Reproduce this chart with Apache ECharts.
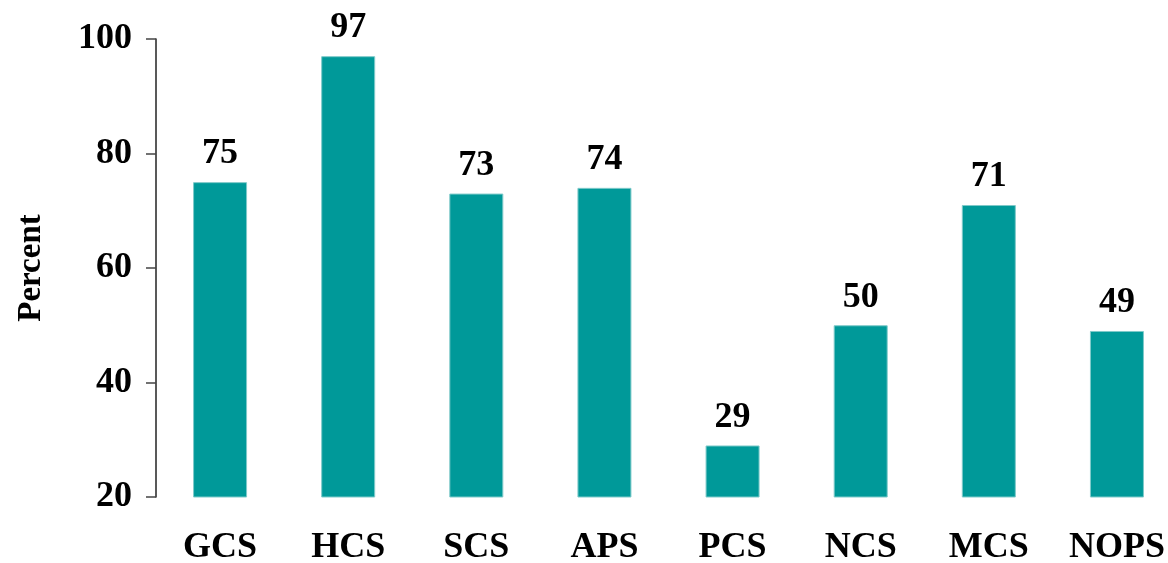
<!DOCTYPE html>
<html><head><meta charset="utf-8">
<script src="https://cdn.jsdelivr.net/npm/echarts@6/dist/echarts.min.js"></script>
<style>html,body{margin:0;padding:0;background:#fff}#c{width:1168px;height:563px}</style>
</head><body><div id="c"></div>
<script>
const categories = ['GCS','HCS','SCS','APS','PCS','NCS','MCS','NOPS'];
const values = [75, 97, 73, 74, 29, 50, 71, 49];
const yTicks = [20, 40, 60, 80, 100];
const font = '"Liberation Serif","Times New Roman",serif';
const chart = echarts.init(document.getElementById('c'));
chart.setOption({
  animation: false,
  grid: {left: 156, right: -13, top: 39, bottom: 66, containLabel: false, outerBoundsMode: 'none'},
  xAxis: {
    type: 'category', data: categories,
    axisLine: {show: false}, axisTick: {show: false},
    axisLabel: {margin: 33, color: '#000', fontFamily: font, fontWeight: 'bold', fontSize: 36}
  },
  yAxis: {
    type: 'value', min: yTicks[0], max: yTicks[yTicks.length-1], interval: 20,
    name: 'Percent', nameLocation: 'middle', nameGap: 108,
    nameTextStyle: {color: '#000', fontFamily: font, fontWeight: 'bold', fontSize: 33},
    axisLine: {show: true, lineStyle: {color: '#222', width: 1.5}},
    axisTick: {show: true, length: 10, lineStyle: {color: '#444', width: 1.5}},
    axisLabel: {margin: 24, color: '#000', fontFamily: font, fontWeight: 'bold', fontSize: 36},
    splitLine: {show: false}
  },
  series: [{
    type: 'bar', data: values, barWidth: 54,
    itemStyle: {color: '#009999', borderColor: '#7fcaca', borderWidth: 1},
    label: {show: true, position: 'top', distance: 10, color: '#000', fontFamily: font, fontWeight: 'bold', fontSize: 36}
  }]
});
</script></body></html>
